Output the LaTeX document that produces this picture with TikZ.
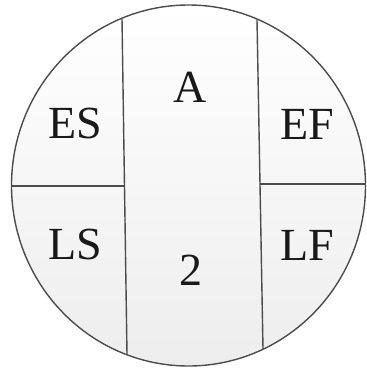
\documentclass[tikz,border=0pt]{standalone}
\usepackage{fontspec}
\setmainfont{Liberation Serif}
\begin{document}
\begin{tikzpicture}[x=1pt,y=-1pt,
  edge/.style={draw=black!70,line width=1.4pt},
  lbl/.style={anchor=base,inner sep=0pt,font=\fontsize{46}{50}\selectfont,text=black!90}]
\useasboundingbox (0,0) rectangle (367,370);
\shade[top color=white,bottom color=black!7] (188.5,185.5) ellipse [x radius=177,y radius=180.5];
\draw[edge] (188.5,185.5) ellipse [x radius=177,y radius=180.5];
\coordinate (lt) at (122,18.7);
\coordinate (lb) at (127,354.3);
\coordinate (rt) at (257,19.5);
\coordinate (rb) at (263,348.8);
\coordinate (hl) at (11.5,186);
\coordinate (hlm) at (124.5,186);
\coordinate (hr) at (365.5,184);
\coordinate (hrm) at (260,184);
\draw[edge] (lt) -- (lb);
\draw[edge] (rt) -- (rb);
\draw[edge] (hl) -- (hlm);
\draw[edge] (hrm) -- (hr);
\node[lbl] (A) at (190,102) {A};
\node[lbl] (ES) at (75,138) {ES};
\node[lbl] (EF) at (307,139) {EF};
\node[lbl] (LS) at (75,259) {LS};
\node[lbl] (LF) at (307,260) {LF};
\node[lbl] (two) at (191,285) {2};
\end{tikzpicture}
\end{document}
